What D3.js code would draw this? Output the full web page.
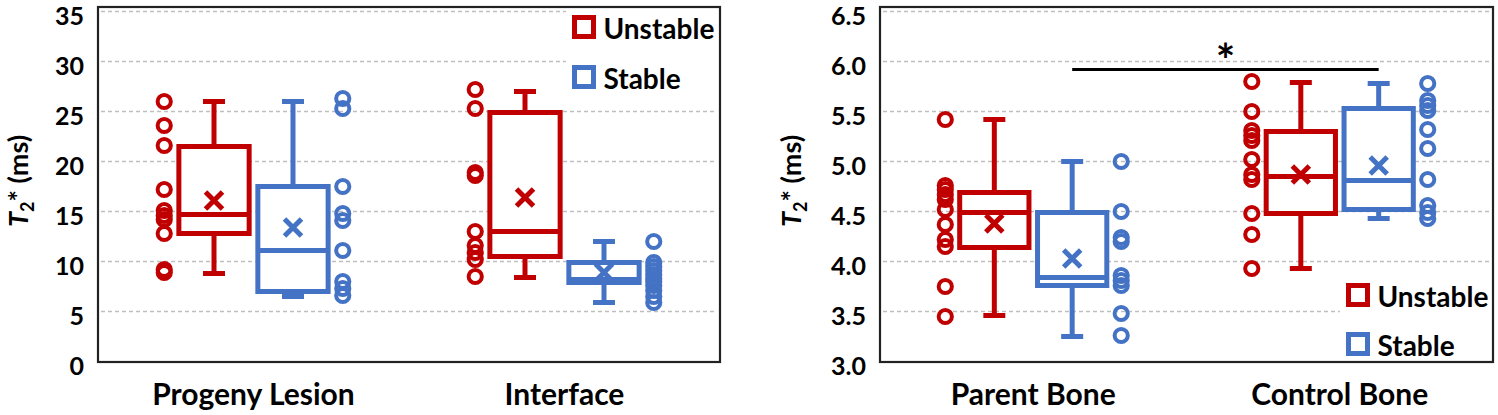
<!DOCTYPE html>
<html>
<head>
<meta charset="utf-8">
<script src="https://cdn.jsdelivr.net/npm/d3@7"></script>
<style>
  body { margin: 0; background: #fff; }
  svg { display: block; font-family: Lato, "Open Sans", sans-serif; font-weight: bold; }
</style>
</head>
<body>
<svg id="chart" width="1498" height="415"></svg>
<script>
// ---- data ----
var seriesNames = ["Unstable", "Stable"];
var seriesColors = ["#c00000", "#4472c4"];

var leftCats = ["Progeny Lesion", "Interface"];
var leftTicks = [0, 5, 10, 15, 20, 25, 30, 35];
// [min, q1, median, q3, max, mean] per category
var leftUnstableBox = [[8.8, 12.8, 14.7, 21.5, 26.0, 16.1], [8.4, 10.5, 13.0, 24.9, 27.0, 16.4]];
var leftStableBox = [[6.5, 7.0, 11.1, 17.5, 26.0, 13.4], [5.9, 7.9, 8.2, 9.9, 12.0, 8.9]];
var leftUnstablePts = [
  [26.0, 23.6, 21.6, 17.2, 15.1, 14.6, 14.2, 12.8, 9.2, 8.9],
  [27.2, 25.3, 18.9, 18.6, 13.0, 11.6, 10.9, 10.2, 8.5]
];
var leftStablePts = [
  [26.3, 25.3, 17.5, 14.8, 14.1, 11.1, 8.0, 7.3, 6.6],
  [12.0, 9.9, 9.5, 9.1, 8.7, 8.3, 8.0, 7.6, 7.1, 6.5, 5.9]
];

var rightCats = ["Parent Bone", "Control Bone"];
var rightTicks = [3.0, 3.5, 4.0, 4.5, 5.0, 5.5, 6.0, 6.5];
var rightUnstableBox = [[3.46, 4.14, 4.49, 4.69, 5.42, 4.38], [3.93, 4.48, 4.85, 5.30, 5.79, 4.87]];
var rightStableBox = [[3.25, 3.76, 3.84, 4.49, 5.0, 4.03], [4.43, 4.52, 4.81, 5.53, 5.78, 4.96]];
var rightUnstablePts = [
  [5.42, 4.76, 4.72, 4.67, 4.62, 4.52, 4.37, 4.22, 4.15, 3.75, 3.45],
  [5.8, 5.5, 5.31, 5.26, 5.21, 5.02, 4.87, 4.82, 4.48, 4.27, 3.93]
];
var rightStablePts = [
  [5.0, 4.5, 4.24, 4.2, 3.86, 3.81, 3.76, 3.48, 3.26],
  [5.78, 5.61, 5.56, 5.51, 5.32, 5.13, 4.82, 4.56, 4.49, 4.43]
];
var sigLevel = 5.92;   // bracket between stable parent and stable control

var svg = d3.select("#chart");

function drawPanel(p) {
  var g = svg.append("g");
  var x = d3.scaleBand().domain(p.cats).range([p.x0, p.x1]);
  var y = d3.scaleLinear().domain([p.ticks[0], p.ticks[p.ticks.length - 1]]).range([361.5, 11.5]);
  var bw = x.bandwidth();

  // grid
  g.selectAll(".grid").data(p.ticks.slice(1)).enter().append("line")
    .attr("x1", p.x0 + 3).attr("x2", p.x1 - 3)
    .attr("y1", function(d){ return y(d); }).attr("y2", function(d){ return y(d); })
    .attr("stroke", "#bfbfbf").attr("stroke-width", 1.3).attr("stroke-dasharray", "4,3");

  // y tick labels
  var fmt = p.fmt ? d3.format(p.fmt) : String;
  g.selectAll(".tick").data(p.ticks).enter().append("text")
    .attr("x", p.x0 - 14).attr("y", function(d){ return y(d) + 3; })
    .attr("text-anchor", "end").attr("dominant-baseline", "central")
    .attr("font-size", 25).text(function(d){ return fmt(d); });

  // y title  T2* (ms)
  var t = g.append("text").attr("transform", "translate(" + p.titleX + ",181) rotate(-90)")
    .attr("text-anchor", "middle").attr("font-size", 27);
  t.append("tspan").attr("font-style", "italic").text("T");
  t.append("tspan").attr("font-size", 18).attr("dy", 6).text("2");
  t.append("tspan").attr("dy", -6).text("* (ms)");

  // category labels
  g.selectAll(".cat").data(p.cats).enter().append("text")
    .attr("x", function(d){ return x(d) + bw / 2; }).attr("y", 405)
    .attr("text-anchor", "middle").attr("font-size", 30).text(function(d){ return d; });

  // legend with white backing
  g.append("rect").attr("x", p.leg.bx).attr("y", p.leg.by).attr("width", p.leg.bw).attr("height", p.leg.bh).attr("fill", "#fff");
  seriesNames.forEach(function(name, i) {
    var ly = p.leg.y + i * p.leg.step;
    g.append("rect").attr("x", p.leg.x).attr("y", ly - 9.5).attr("width", 19).attr("height", 19)
      .attr("fill", "none").attr("stroke", seriesColors[i]).attr("stroke-width", 5);
    g.append("text").attr("x", p.leg.x + 29).attr("y", ly + 1).attr("dominant-baseline", "central")
      .attr("font-size", 28).text(name);
  });

  // boxes
  var boxW = bw * 0.226, capW = 22, off = bw * 0.127, ptOff = bw * 0.287;
  [p.boxes[0], p.boxes[1]].forEach(function(boxes, s) {
    var col = seriesColors[s], dir = s === 0 ? -1 : 1;
    boxes.forEach(function(b, ci) {
      var mid = x(p.cats[ci]) + bw / 2, cx = mid + dir * off;
      var bg = g.append("g").attr("stroke", col).attr("stroke-width", 5).attr("fill", "none");
      bg.append("line").attr("x1", cx).attr("x2", cx).attr("y1", y(b[4])).attr("y2", y(b[3]));
      bg.append("line").attr("x1", cx).attr("x2", cx).attr("y1", y(b[1])).attr("y2", y(b[0]));
      bg.append("line").attr("x1", cx - capW / 2).attr("x2", cx + capW / 2).attr("y1", y(b[4])).attr("y2", y(b[4]));
      bg.append("line").attr("x1", cx - capW / 2).attr("x2", cx + capW / 2).attr("y1", y(b[0])).attr("y2", y(b[0]));
      bg.append("rect").attr("x", cx - boxW / 2).attr("y", y(b[3])).attr("width", boxW)
        .attr("height", y(b[1]) - y(b[3])).attr("fill", "#fff");
      bg.append("line").attr("x1", cx - boxW / 2).attr("x2", cx + boxW / 2).attr("y1", y(b[2])).attr("y2", y(b[2]));
      var my = y(b[5]), h = 8.5;
      bg.append("path").attr("d", "M" + (cx - h) + "," + (my - h) + "L" + (cx + h) + "," + (my + h) +
        "M" + (cx - h) + "," + (my + h) + "L" + (cx + h) + "," + (my - h));
      // points
      var px = mid + dir * ptOff;
      g.selectAll(null).data(p.pts[s][ci]).enter().append("circle")
        .attr("cx", px).attr("cy", function(d){ return y(d); }).attr("r", 6.6)
        .attr("fill", "none").attr("stroke", col).attr("stroke-width", 4);
    });
  });

  // frame
  g.append("rect").attr("x", p.x0).attr("y", 7).attr("width", p.x1 - p.x0).attr("height", 355)
    .attr("fill", "none").attr("stroke", "#222").attr("stroke-width", 2.2);

  return { x: x, y: y, bw: bw, off: off };
}

drawPanel({
  x0: 98, x1: 720, cats: leftCats, ticks: leftTicks, titleX: 28,
  boxes: [leftUnstableBox, leftStableBox], pts: [leftUnstablePts, leftStablePts],
  leg: { bx: 566, by: 8, bw: 152, bh: 94, x: 574.5, y: 27, step: 50 }
});

var r = drawPanel({
  x0: 880, x1: 1493, cats: rightCats, ticks: rightTicks, titleX: 801, fmt: ".1f",
  boxes: [rightUnstableBox, rightStableBox], pts: [rightUnstablePts, rightStablePts],
  leg: { bx: 1340, by: 272, bw: 152, bh: 89, x: 1348.5, y: 295, step: 49 }
});

// significance bracket between the stable boxes
var sx1 = r.x(rightCats[0]) + r.bw / 2 + r.off, sx2 = r.x(rightCats[1]) + r.bw / 2 + r.off;
svg.append("line").attr("x1", sx1).attr("x2", sx2).attr("y1", r.y(sigLevel)).attr("y2", r.y(sigLevel))
  .attr("stroke", "#000").attr("stroke-width", 3);
svg.append("text").attr("x", (sx1 + sx2) / 2).attr("y", r.y(sigLevel) + 7)
  .attr("text-anchor", "middle").attr("font-size", 46).text("*");
</script>
</body>
</html>
